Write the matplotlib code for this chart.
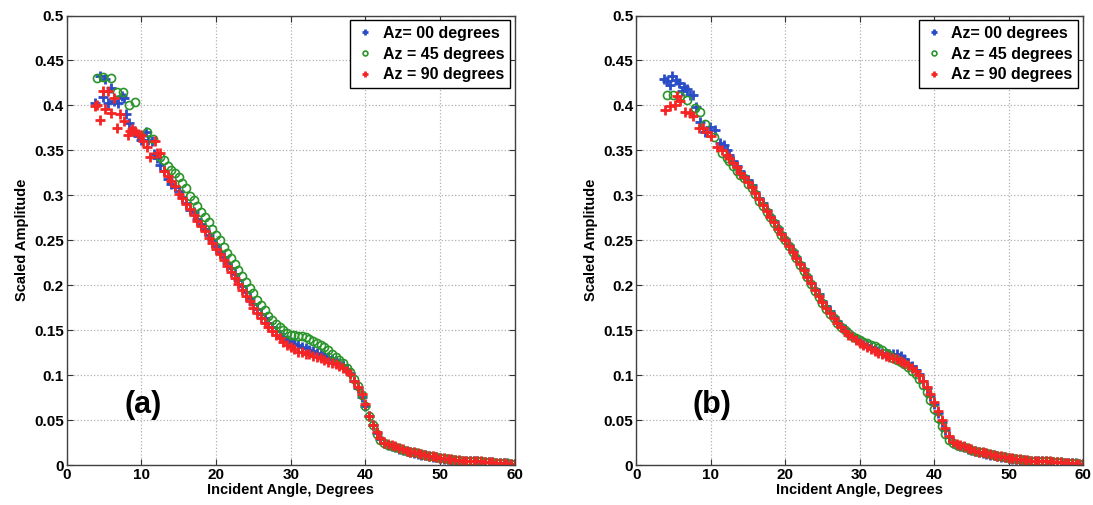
import matplotlib
matplotlib.use("Agg")
import matplotlib.pyplot as plt

plt.rcParams['font.family'] = ['Liberation Sans', 'DejaVu Sans']
plt.rcParams['font.weight'] = 'bold'

# common angle grid (deg) used after the noisy start of each trace
GRID = [12.5, 13.0, 13.5, 14.0, 14.5, 15.0, 15.5, 16.0, 16.5, 17.0,
        17.5, 18.0, 18.5, 19.0, 19.5, 20.0, 20.5, 21.0, 21.5, 22.0,
        22.5, 23.0, 23.5, 24.0, 24.5, 25.0, 25.5, 26.0, 26.5, 27.0,
        27.5, 28.0, 28.5, 29.0, 29.5, 30.0, 30.5, 31.0, 31.5, 32.0,
        32.5, 33.0, 33.5, 34.0, 34.5, 35.0, 35.5, 36.0, 36.5, 37.0,
        37.5, 38.0, 38.5, 39.0, 39.5, 40.0, 40.5, 41.0, 41.5, 42.0,
        42.5, 43.0, 43.5, 44.0, 44.5, 45.0, 45.5, 46.0, 46.5, 47.0,
        47.5, 48.0, 48.5, 49.0, 49.5, 50.0, 50.5, 51.0, 51.5, 52.0,
        52.5, 53.0, 53.5, 54.0, 54.5, 55.0, 55.5, 56.0, 56.5, 57.0,
        57.5, 58.0, 58.5, 59.0, 59.5, 60.0]

# ---- panel (a) ----
a00_x0 = [3.8, 4.5, 4.8, 5.1, 5.6, 6.0, 6.3, 6.9, 7.4, 7.7, 8.0, 8.4, 9.0, 9.6,
          10.0, 10.6, 10.9, 11.4, 11.7, 12.1]
a00_y0 = [0.403, 0.433, 0.409, 0.429, 0.403, 0.419, 0.405, 0.403, 0.410, 0.408,
          0.390, 0.380, 0.372, 0.366, 0.362, 0.371, 0.362, 0.360, 0.346, 0.342]
a00_y = [0.334, 0.327, 0.318, 0.313, 0.309, 0.305, 0.298, 0.292, 0.284, 0.281,
         0.274, 0.268, 0.262, 0.256, 0.250, 0.244, 0.237, 0.231, 0.225, 0.219,
         0.212, 0.206, 0.199, 0.192, 0.186, 0.179, 0.173, 0.168, 0.163, 0.158,
         0.153, 0.149, 0.145, 0.142, 0.139, 0.137, 0.135, 0.133, 0.131, 0.130,
         0.128, 0.127, 0.125, 0.124, 0.122, 0.120, 0.118, 0.116, 0.114, 0.111,
         0.107, 0.102, 0.094, 0.086, 0.076, 0.066, 0.055, 0.044, 0.036, 0.029,
         0.024, 0.022, 0.021, 0.020, 0.018, 0.017, 0.016, 0.014, 0.013, 0.012,
         0.011, 0.011, 0.010, 0.009, 0.009, 0.008, 0.007, 0.007, 0.006, 0.006,
         0.005, 0.005, 0.005, 0.004, 0.004, 0.004, 0.003, 0.003, 0.003, 0.003,
         0.002, 0.002, 0.002, 0.002, 0.001, 0.001]

a45_x0 = [4.1, 4.8, 5.9, 6.8, 7.6, 8.4, 9.1, 10.8, 11.6]
a45_y0 = [0.431, 0.432, 0.431, 0.415, 0.415, 0.401, 0.404, 0.371, 0.363]
a45_y = [0.343, 0.339, 0.333, 0.328, 0.325, 0.320, 0.314, 0.308, 0.299, 0.295,
         0.288, 0.282, 0.276, 0.270, 0.263, 0.256, 0.250, 0.243, 0.236, 0.230,
         0.224, 0.217, 0.210, 0.204, 0.197, 0.191, 0.184, 0.178, 0.172, 0.166,
         0.161, 0.157, 0.154, 0.150, 0.147, 0.145, 0.145, 0.144, 0.143, 0.142,
         0.140, 0.138, 0.136, 0.134, 0.131, 0.128, 0.124, 0.120, 0.117, 0.113,
         0.108, 0.103, 0.096, 0.088, 0.078, 0.066, 0.055, 0.044, 0.035, 0.028,
         0.024, 0.022, 0.021, 0.020, 0.019, 0.017, 0.016, 0.015, 0.014, 0.013,
         0.012, 0.011, 0.010, 0.010, 0.009, 0.008, 0.008, 0.007, 0.007, 0.006,
         0.006, 0.005, 0.005, 0.005, 0.004, 0.004, 0.004, 0.003, 0.003, 0.003,
         0.002, 0.002, 0.002, 0.002, 0.001, 0.001]

a90_x0 = [3.8, 4.0, 4.5, 4.8, 5.1, 5.6, 6.0, 6.3, 6.7, 7.1, 7.7, 8.2, 8.5, 8.8,
          9.2, 9.6, 10.0, 10.2, 10.8, 11.1, 11.8, 12.1]
a90_y0 = [0.399, 0.400, 0.384, 0.416, 0.396, 0.416, 0.392, 0.408, 0.375, 0.391,
          0.383, 0.367, 0.372, 0.374, 0.372, 0.368, 0.367, 0.360, 0.354, 0.343,
          0.360, 0.347]
a90_y = [0.347, 0.327, 0.322, 0.316, 0.310, 0.302, 0.297, 0.290, 0.285, 0.278,
         0.272, 0.266, 0.260, 0.253, 0.247, 0.240, 0.235, 0.228, 0.221, 0.215,
         0.208, 0.201, 0.195, 0.188, 0.182, 0.175, 0.169, 0.164, 0.158, 0.153,
         0.149, 0.145, 0.141, 0.137, 0.134, 0.131, 0.129, 0.126, 0.126, 0.124,
         0.123, 0.121, 0.120, 0.119, 0.117, 0.115, 0.114, 0.112, 0.110, 0.108,
         0.105, 0.101, 0.094, 0.087, 0.079, 0.068, 0.055, 0.045, 0.037, 0.030,
         0.025, 0.023, 0.022, 0.021, 0.019, 0.018, 0.016, 0.015, 0.014, 0.013,
         0.012, 0.011, 0.010, 0.010, 0.009, 0.008, 0.008, 0.007, 0.007, 0.006,
         0.006, 0.005, 0.005, 0.005, 0.004, 0.004, 0.004, 0.003, 0.003, 0.003,
         0.002, 0.002, 0.002, 0.001, 0.001, 0.001]

# ---- panel (b) ----
b00_x0 = [3.7, 4.2, 4.6, 4.8, 5.3, 5.7, 6.1, 6.4, 6.8, 7.2, 7.7, 8.1, 8.6, 9.3,
          9.9, 10.6, 11.3, 11.8, 12.2]
b00_y0 = [0.429, 0.427, 0.423, 0.433, 0.428, 0.425, 0.416, 0.420, 0.418, 0.412,
          0.412, 0.398, 0.382, 0.371, 0.376, 0.373, 0.358, 0.356, 0.350]
b00_y = [0.345, 0.338, 0.333, 0.327, 0.322, 0.317, 0.311, 0.304, 0.297, 0.291,
         0.284, 0.277, 0.271, 0.264, 0.258, 0.251, 0.245, 0.238, 0.231, 0.225,
         0.218, 0.210, 0.203, 0.196, 0.190, 0.183, 0.177, 0.171, 0.165, 0.160,
         0.155, 0.151, 0.147, 0.143, 0.140, 0.137, 0.135, 0.133, 0.131, 0.129,
         0.127, 0.125, 0.124, 0.124, 0.124, 0.123, 0.121, 0.118, 0.114, 0.110,
         0.106, 0.101, 0.094, 0.086, 0.077, 0.068, 0.058, 0.048, 0.039, 0.031,
         0.025, 0.022, 0.021, 0.020, 0.018, 0.017, 0.016, 0.014, 0.013, 0.012,
         0.011, 0.011, 0.010, 0.009, 0.009, 0.008, 0.007, 0.007, 0.006, 0.006,
         0.005, 0.005, 0.005, 0.004, 0.004, 0.004, 0.003, 0.003, 0.003, 0.003,
         0.002, 0.002, 0.002, 0.002, 0.001, 0.001]

b45_x0 = [4.1, 5.0, 5.9, 6.8, 7.9, 8.6, 9.3, 10.4, 11.5, 12.2]
b45_y0 = [0.412, 0.412, 0.410, 0.406, 0.397, 0.393, 0.379, 0.365, 0.347, 0.342]
b45_y = [0.338, 0.333, 0.327, 0.323, 0.319, 0.313, 0.308, 0.302, 0.294, 0.288,
         0.282, 0.276, 0.269, 0.263, 0.256, 0.250, 0.244, 0.237, 0.230, 0.223,
         0.216, 0.209, 0.201, 0.194, 0.187, 0.180, 0.174, 0.168, 0.163, 0.158,
         0.154, 0.150, 0.147, 0.144, 0.141, 0.139, 0.137, 0.136, 0.134, 0.132,
         0.130, 0.128, 0.125, 0.122, 0.119, 0.117, 0.115, 0.112, 0.109, 0.105,
         0.101, 0.096, 0.089, 0.081, 0.072, 0.062, 0.052, 0.043, 0.035, 0.028,
         0.024, 0.022, 0.021, 0.020, 0.019, 0.017, 0.016, 0.015, 0.014, 0.013,
         0.012, 0.011, 0.010, 0.010, 0.009, 0.008, 0.008, 0.007, 0.007, 0.006,
         0.006, 0.005, 0.005, 0.005, 0.004, 0.004, 0.004, 0.003, 0.003, 0.003,
         0.002, 0.002, 0.002, 0.002, 0.001, 0.001]

b90_x0 = [3.9, 4.6, 5.2, 5.5, 5.9, 6.6, 7.2, 7.7, 8.4, 9.0, 9.5, 10.1, 10.8,
          11.5, 12.2]
b90_y0 = [0.395, 0.399, 0.401, 0.410, 0.405, 0.393, 0.392, 0.388, 0.375, 0.375,
          0.371, 0.366, 0.354, 0.350, 0.345]
b90_y = [0.342, 0.336, 0.331, 0.325, 0.320, 0.315, 0.309, 0.303, 0.296, 0.289,
         0.283, 0.276, 0.270, 0.263, 0.257, 0.250, 0.244, 0.237, 0.230, 0.224,
         0.217, 0.209, 0.202, 0.195, 0.188, 0.181, 0.175, 0.169, 0.163, 0.158,
         0.153, 0.149, 0.145, 0.142, 0.139, 0.136, 0.133, 0.131, 0.129, 0.127,
         0.125, 0.123, 0.121, 0.120, 0.119, 0.118, 0.116, 0.114, 0.111, 0.108,
         0.105, 0.100, 0.094, 0.087, 0.079, 0.070, 0.060, 0.050, 0.041, 0.032,
         0.026, 0.023, 0.022, 0.021, 0.019, 0.018, 0.016, 0.015, 0.014, 0.013,
         0.012, 0.011, 0.010, 0.010, 0.009, 0.008, 0.008, 0.007, 0.007, 0.006,
         0.006, 0.005, 0.005, 0.005, 0.004, 0.004, 0.004, 0.003, 0.003, 0.003,
         0.002, 0.002, 0.002, 0.001, 0.001, 0.001]

LABELS = ["Az= 00 degrees", "Az = 45 degrees", "Az = 90 degrees"]
X_TICKS = [0, 10, 20, 30, 40, 50, 60]
Y_TICKS = [0, 0.05, 0.1, 0.15, 0.2, 0.25, 0.3, 0.35, 0.4, 0.45, 0.5]
Y_TICKLABELS = ["0", "0.05", "0.1", "0.15", "0.2", "0.25", "0.3", "0.35", "0.4", "0.45", "0.5"]

C_BLUE = "#2a4cc6"
C_GREEN = "#2a952a"
C_RED = "#f52525"

fig = plt.figure(figsize=(10.93, 5.05), dpi=100)
ax_a = fig.add_axes([0.061, 0.0792, 0.410, 0.890])
ax_b = fig.add_axes([0.582, 0.0792, 0.409, 0.890])

panels = [
    (ax_a, "(a)", (a00_x0, a00_y0, a00_y), (a45_x0, a45_y0, a45_y), (a90_x0, a90_y0, a90_y)),
    (ax_b, "(b)", (b00_x0, b00_y0, b00_y), (b45_x0, b45_y0, b45_y), (b90_x0, b90_y0, b90_y)),
]

for ax, tag, s00, s45, s90 in panels:
    ax.plot(s00[0] + GRID, s00[1] + s00[2], ls="none", marker="+", ms=7,
            mew=2.0, color=C_BLUE, label=LABELS[0])
    ax.plot(s45[0] + GRID, s45[1] + s45[2], ls="none", marker="o", ms=5.8,
            mew=1.2, mfc="none", mec=C_GREEN, label=LABELS[1])
    ax.plot(s90[0] + GRID, s90[1] + s90[2], ls="none", marker="+", ms=7,
            mew=2.0, color=C_RED, label=LABELS[2])

    ax.set_xlim(0, 60)
    ax.set_ylim(0, 0.5)
    ax.set_xticks(X_TICKS)
    ax.set_yticks(Y_TICKS)
    ax.set_yticklabels(Y_TICKLABELS)
    ax.tick_params(direction="in", top=True, right=True, length=4,
                   labelsize=11, pad=2, color="#333333")
    ax.grid(True, linestyle=":", color="#b0b0b0", linewidth=0.9)
    for sp in ax.spines.values():
        sp.set_color("#404040")
        sp.set_linewidth(1.0)
    ax.set_xlabel("Incident Angle, Degrees", fontsize=10.5, fontweight="bold", labelpad=1)
    ax.set_ylabel("Scaled Amplitude", fontsize=10.5, fontweight="bold", labelpad=4)
    ax.text(10.2, 0.067, tag, fontsize=22, fontweight="bold", ha="center", va="center")

    leg = ax.legend(loc="upper right", numpoints=1, fontsize=11.5, fancybox=False,
                    borderaxespad=0.3, handlelength=1.2, handletextpad=0.5,
                    labelspacing=0.35, borderpad=0.35, framealpha=1, markerscale=0.6)
    leg.get_frame().set_edgecolor("black")
    leg.get_frame().set_linewidth(1.0)

fig.savefig("out.png", dpi=100)
